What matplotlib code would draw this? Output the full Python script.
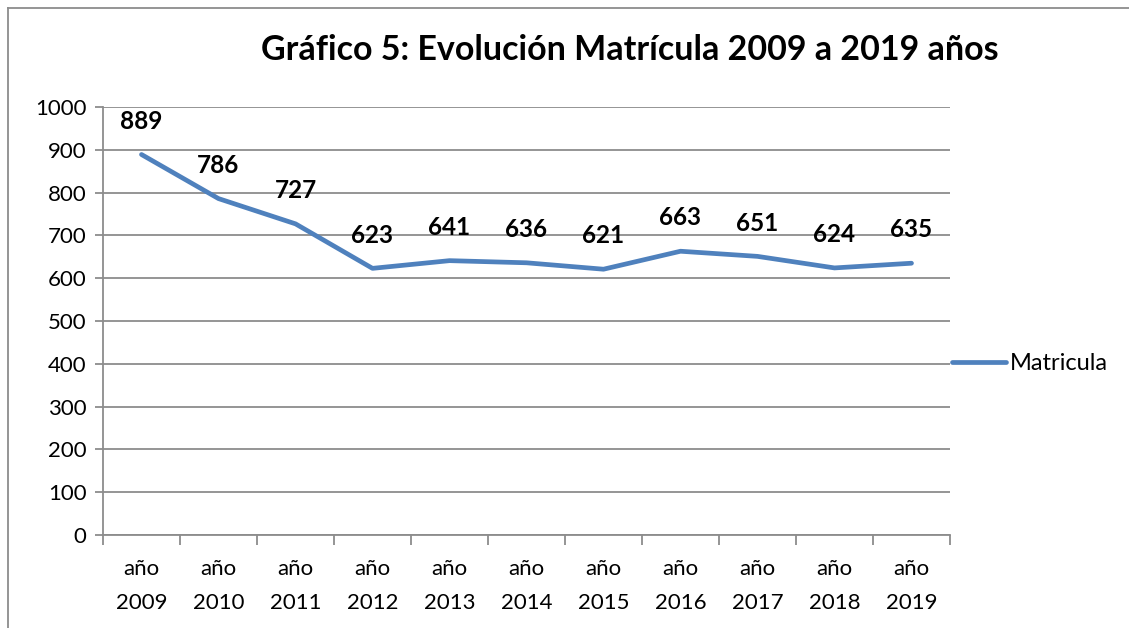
import matplotlib
matplotlib.use("Agg")
import matplotlib.pyplot as plt
from matplotlib.lines import Line2D

categories = ["año\n2009", "año\n2010", "año\n2011", "año\n2012", "año\n2013", "año\n2014",
              "año\n2015", "año\n2016", "año\n2017", "año\n2018", "año\n2019"]
matricula = [889, 786, 727, 623, 641, 636, 621, 663, 651, 624, 635]
yticks = [0, 100, 200, 300, 400, 500, 600, 700, 800, 900, 1000]

plt.rcParams['font.family'] = ['Lato', 'DejaVu Sans']

W, H = 1129, 628
fig = plt.figure(figsize=(W/100, H/100), dpi=100)
left, right, top, bottom = 103, 950, 107, 535
ax = fig.add_axes([left/W, 1-bottom/H, (right-left)/W, (bottom-top)/H])

n = len(categories)
xs = [i + 0.5 for i in range(n)]
line_color = '#4F81BD'
ax.plot(xs, matricula, color=line_color, linewidth=3.4, solid_capstyle='round',
        solid_joinstyle='round', label='Matricula', zorder=3)

for x, v in zip(xs, matricula):
    ax.annotate(str(v), (x, v), xytext=(0, 24), textcoords='offset points',
                ha='center', va='center', fontsize=17.5, fontweight='bold', color='black')

ax.set_xlim(0, n)
ax.set_ylim(0, 1000)
ax.set_yticks(yticks)
ax.set_yticklabels([str(t) for t in yticks], fontsize=16)
ax.yaxis.grid(True, color='#8c8c8c', linewidth=1.3)
ax.set_axisbelow(True)
ax.tick_params(axis='y', length=6, width=1.3, color='#8c8c8c', pad=6)

ax.set_xticks(range(n + 1), minor=False)
ax.set_xticklabels([''] * (n + 1))
ax.tick_params(axis='x', which='major', length=7, width=1.3, color='#8c8c8c')
ax.set_xticks(xs, minor=True)
ax.set_xticklabels(categories, minor=True, fontsize=16, linespacing=1.9)
ax.tick_params(axis='x', which='minor', length=0, pad=17)

for s in ['top', 'right']:
    ax.spines[s].set_visible(False)
for s in ['left', 'bottom']:
    ax.spines[s].set_color('#8c8c8c')
    ax.spines[s].set_linewidth(1.3)

fig.text(630/W, 1-50/H, 'Gráfico 5: Evolución Matrícula 2009 a 2019 años',
         ha='center', va='center', fontsize=24.5, fontweight='bold')

leg = ax.legend(loc='center left', bbox_to_anchor=(952/W, 1-364/H), bbox_transform=fig.transFigure,
                frameon=False, fontsize=17, handlelength=2.3, handletextpad=0.15, borderaxespad=0,
                borderpad=0)

fig.add_artist(Line2D([8/W, 8/W], [0, 1-8/H], transform=fig.transFigure, color='#8c8c8c', linewidth=1.3))
fig.add_artist(Line2D([8/W, 1], [1-8/H, 1-8/H], transform=fig.transFigure, color='#8c8c8c', linewidth=1.3))

fig.savefig('out.png', dpi=100, facecolor='white')
